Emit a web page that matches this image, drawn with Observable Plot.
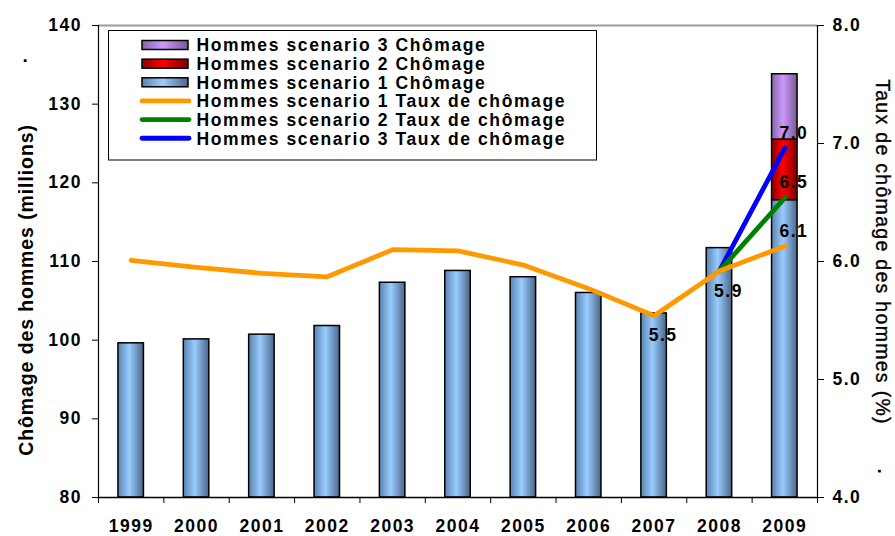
<!DOCTYPE html>
<html>
<head>
<meta charset="utf-8">
<script src="https://cdn.jsdelivr.net/npm/d3@7"></script>
<script src="https://cdn.jsdelivr.net/npm/@observablehq/plot@0.6"></script>
<style>
  html, body { margin: 0; padding: 0; background: #fff; }
  #chart { width: 895px; height: 536px; }
</style>
</head>
<body>
<div id="chart"></div>
<script>
// ---- Data ----
const years = [1999, 2000, 2001, 2002, 2003, 2004, 2005, 2006, 2007, 2008, 2009];
const chomageS1 = [99.6, 100.1, 100.7, 101.8, 107.3, 108.8, 108.0, 106.0, 103.4, 111.7, 117.8];
const stackYear = 2009;
const chomageS2Total = 125.5;
const chomageS3Total = 133.8;
const tauxS1 = [6.01, 5.95, 5.90, 5.87, 6.10, 6.09, 5.97, 5.77, 5.54, 5.92, 6.13];
const scenarioYears = [2008, 2009];
const tauxS2 = [5.92, 6.54];
const tauxS3 = [5.92, 6.96];
const labelYears = [2007, 2008, 2009, 2009, 2009];
const labelRates = [5.54, 5.92, 6.13, 6.54, 6.96];
const labelTexts = ["5.5", "5.9", "6.1", "6.5", "7.0"];
const leftTicks = [80, 90, 100, 110, 120, 130, 140];
const rightTicks = [4, 5, 6, 7, 8];
const legendLabels = [
  "Hommes scenario 3 Chômage",
  "Hommes scenario 2 Chômage",
  "Hommes scenario 1 Chômage",
  "Hommes scenario 1 Taux de chômage",
  "Hommes scenario 2 Taux de chômage",
  "Hommes scenario 3 Taux de chômage"
];
const leftTitle = "Chômage des hommes (millions)";
const rightTitle = "Taux de chômage des hommes (%)";

// ---- Scales helpers ----
const yMin = leftTicks[0], yMax = leftTicks[leftTicks.length - 1];
const rMin = rightTicks[0], rMax = rightTicks[rightTicks.length - 1];
const toLeft = r => yMin + (r - rMin) * (yMax - yMin) / (rMax - rMin);
const fromLeft = v => rMin + (v - yMin) * (rMax - rMin) / (yMax - yMin);
const xLo = years[0] - 0.5, xHi = years[years.length - 1] + 0.5;
const barHalf = 0.195;

const barData = years.map((year, i) => ({year, value: chomageS1[i]}));
const s1Top = chomageS1[years.indexOf(stackYear)];
const stack2 = [{year: stackYear, lo: s1Top, hi: chomageS2Total}];
const stack3 = [{year: stackYear, lo: chomageS2Total, hi: chomageS3Total}];
const line1 = years.map((year, i) => ({year, v: toLeft(tauxS1[i])}));
const line2 = scenarioYears.map((year, i) => ({year, v: toLeft(tauxS2[i])}));
const line3 = scenarioYears.map((year, i) => ({year, v: toLeft(tauxS3[i])}));
const labels = labelYears.map((year, i) => ({year, v: toLeft(labelRates[i]), text: labelTexts[i], below: i < 2}));
const edges = years.map(y => y - 0.5).concat([xHi]);

const colors = {orange: "#FF9900", green: "#008000", blue: "#0000FF"};
const font = "'Liberation Sans', Arial, Helvetica, sans-serif";

const rectOpts = (fill) => ({
  x1: d => d.year - barHalf, x2: d => d.year + barHalf,
  fill, stroke: "black", strokeWidth: 1.5
});
const lineOpts = (stroke) => ({x: "year", y: "v", stroke, strokeWidth: 4.8, strokeLinecap: "round", strokeLinejoin: "round"});

const plot = Plot.plot({
  width: 895,
  height: 536,
  marginLeft: 98,
  marginRight: 78,
  marginTop: 25,
  marginBottom: 39,
  x: {type: "linear", domain: [xLo, xHi]},
  y: {domain: [yMin, yMax]},
  style: {fontFamily: font, fontSize: "17.5px", fontWeight: "bold", letterSpacing: "1.5px", color: "black", background: "white", overflow: "visible"},
  marks: [
    Plot.ruleY([yMax], {stroke: "#9a9a9a", strokeWidth: 2}),
    Plot.rect(barData, {...rectOpts("url(#gBlue)"), y1: d => yMin, y2: "value"}),
    Plot.rect(stack2, {...rectOpts("url(#gRed)"), y1: "lo", y2: "hi"}),
    Plot.rect(stack3, {...rectOpts("url(#gPurple)"), y1: "lo", y2: "hi"}),
    Plot.line(line3, lineOpts(colors.blue)),
    Plot.line(line2, lineOpts(colors.green)),
    Plot.line(line1, lineOpts(colors.orange)),
    Plot.text(labels.filter(d => d.below), {x: "year", y: "v", text: "text", dx: 9, dy: 20, fill: "black", lineAnchor: "middle"}),
    Plot.text(labels.filter(d => !d.below), {x: "year", y: "v", text: "text", dx: 9, dy: -15, fill: "black", lineAnchor: "middle"}),
    Plot.ruleX([xLo], {stroke: "black", strokeWidth: 1.2}),
    Plot.ruleX([xHi], {stroke: "black", strokeWidth: 1.2}),
    Plot.ruleY([yMin], {stroke: "black", strokeWidth: 1.5}),
    Plot.axisY({ticks: leftTicks, tickSize: 6, tickPadding: 10.5, tickFormat: d => String(d), label: null, stroke: "black"}),
    Plot.axisY({anchor: "right", ticks: rightTicks.map(toLeft), tickSize: 6, tickPadding: 9, tickFormat: v => fromLeft(v).toFixed(1), label: null, stroke: "black"}),
    Plot.axisX({ticks: edges, tickSize: 6, tickFormat: () => "", label: null, stroke: "black"}),
    Plot.axisX({ticks: years, tickSize: 0, tickPadding: 22, tickFormat: d => String(d), label: null})
  ]
});

const svg = d3.select(plot);
const defs = svg.insert("defs", ":first-child");
function grad(id, edgeL, mid, edgeR) {
  const g = defs.append("linearGradient").attr("id", id).attr("x1", "0%").attr("x2", "100%").attr("y1", "0%").attr("y2", "0%");
  g.append("stop").attr("offset", "0%").attr("stop-color", edgeL);
  g.append("stop").attr("offset", "45%").attr("stop-color", mid);
  g.append("stop").attr("offset", "100%").attr("stop-color", edgeR);
}
grad("gBlue", "#5a83b2", "#99ccff", "#4a6689");
grad("gRed", "#8a0000", "#ff0000", "#7a0000");
grad("gPurple", "#8466a6", "#cc99ff", "#76598f");

// ---- Legend (inside plot area) ----
const lg = svg.append("g").attr("font-family", font).attr("font-size", "17.5px").attr("font-weight", "bold")
  .attr("letter-spacing", "1.6px").attr("text-anchor", "start");
lg.append("rect").attr("x", 108.5).attr("y", 30.5).attr("width", 488).attr("height", 129.5)
  .attr("fill", "white").attr("stroke", "black").attr("stroke-width", 1);
const swatchFills = ["url(#gPurple)", "url(#gRed)", "url(#gBlue)"];
const swatchLines = [colors.orange, colors.green, colors.blue];
legendLabels.forEach((lab, i) => {
  const cy = 45 + i * 18.65;
  if (i < 3) {
    lg.append("rect").attr("x", 142).attr("y", cy - 4.5).attr("width", 46).attr("height", 9)
      .attr("fill", swatchFills[i]).attr("stroke", "black").attr("stroke-width", 1.5);
  } else {
    lg.append("line").attr("x1", 142).attr("x2", 189).attr("y1", cy).attr("y2", cy)
      .attr("stroke", swatchLines[i - 3]).attr("stroke-width", 4.8).attr("stroke-linecap", "round");
  }
  lg.append("text").attr("x", 196.5).attr("y", cy).attr("dy", "0.36em").attr("text-anchor", "start")
    .attr("fill", "black").text(lab);
});

// ---- Axis titles ----
svg.append("text").attr("transform", "translate(33,290) rotate(-90)")
  .attr("text-anchor", "middle").attr("font-family", font).attr("font-size", "19.5px")
  .attr("font-weight", "bold").attr("letter-spacing", "0.9px").attr("fill", "black").text(leftTitle);
svg.append("text").attr("transform", "translate(876,252) rotate(90)")
  .attr("text-anchor", "middle").attr("font-family", font).attr("font-size", "19.5px")
  .attr("font-weight", "normal").attr("letter-spacing", "1.3px").attr("fill", "black")
  .attr("stroke", "black").attr("stroke-width", 0.35).text(rightTitle);
svg.append("text").attr("x", 26).attr("y", 62).attr("text-anchor", "middle").attr("font-family", font)
  .attr("font-size", "19px").attr("font-weight", "bold").attr("fill", "black").text(".");
svg.append("text").attr("transform", "translate(878,472) rotate(90)").attr("text-anchor", "middle").attr("font-family", font)
  .attr("font-size", "19px").attr("fill", "black").text(".");

document.getElementById("chart").appendChild(plot);
</script>
</body>
</html>
